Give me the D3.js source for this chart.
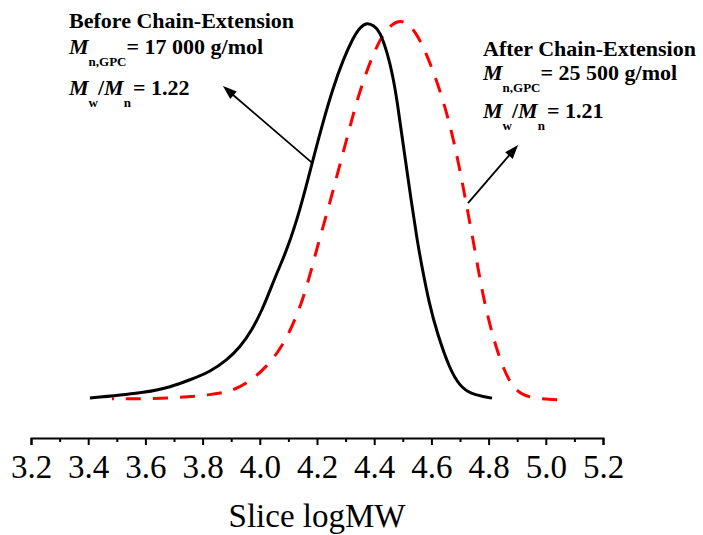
<!DOCTYPE html>
<html>
<head>
<meta charset="utf-8">
<script src="https://cdn.jsdelivr.net/npm/d3@7"></script>
<style>
  html, body { margin: 0; padding: 0; background: #fff; }
  svg { display: block; }
  text { font-family: "Liberation Serif", "Times New Roman", serif; }
</style>
</head>
<body>
<svg id="chart" width="703" height="535"></svg>
<script>
// GPC traces: normalised detector response against slice log MW
const beforeLogMW  = [3.406, 3.616, 3.686, 3.756, 3.826, 3.885, 3.931, 3.973, 4.008, 4.036, 4.064, 4.095, 4.141, 4.183, 4.221, 4.256, 4.291, 4.326, 4.350, 4.375, 4.399, 4.420, 4.448, 4.465, 4.480, 4.504, 4.529, 4.550, 4.567, 4.592, 4.620, 4.665, 4.700, 4.735, 4.812];
const beforeSignal = [0.005, 0.021, 0.034, 0.053, 0.074, 0.105, 0.139, 0.184, 0.237, 0.289, 0.342, 0.395, 0.500, 0.624, 0.732, 0.821, 0.895, 0.953, 0.981, 0.994, 0.985, 0.971, 0.908, 0.853, 0.789, 0.658, 0.526, 0.421, 0.350, 0.255, 0.176, 0.079, 0.037, 0.016, 0.005];

const afterLogMW  = [3.483, 3.651, 3.836, 3.913, 3.973, 4.022, 4.064, 4.099, 4.130, 4.155, 4.179, 4.203, 4.235, 4.263, 4.291, 4.315, 4.340, 4.375, 4.403, 4.431, 4.462, 4.490, 4.518, 4.546, 4.574, 4.606, 4.641, 4.672, 4.700, 4.724, 4.749, 4.773, 4.801, 4.836, 4.875, 4.917, 4.980, 5.060];
const afterSignal = [0.003, 0.003, 0.013, 0.026, 0.053, 0.087, 0.126, 0.171, 0.224, 0.276, 0.339, 0.408, 0.492, 0.571, 0.650, 0.718, 0.789, 0.868, 0.921, 0.963, 0.989, 0.999, 0.991, 0.966, 0.926, 0.866, 0.789, 0.703, 0.605, 0.508, 0.408, 0.303, 0.205, 0.113, 0.042, 0.011, 0.003, 0.000];

const majorTicks = [3.2, 3.4, 3.6, 3.8, 4.0, 4.2, 4.4, 4.6, 4.8, 5.0, 5.2];
const minorTicks = [3.3, 3.5, 3.7, 3.9, 4.1, 4.3, 4.5, 4.7, 4.9, 5.1];
const axisTitle = "Slice logMW";

// Annotation text
const beforeTitle = "Before Chain-Extension";
const beforeMn = "= 17 000 g/mol";
const beforePDI = "= 1.22";
const afterTitle = "After Chain-Extension";
const afterMn = "= 25 500 g/mol";
const afterPDI = "= 1.21";

// Arrow anchors in data units: [logMW, signal]
const beforeArrowFrom = [4.183, 0.624];
const beforeArrowTo   = [3.871, 0.826];
const afterArrowFrom  = [4.728, 0.518];
const afterArrowTo    = [4.903, 0.671];

const svg = d3.select("#chart");

const x = d3.scaleLinear().domain([3.2, 5.2]).range([31, 603]);
const y = d3.scaleLinear().domain([0, 1]).range([400, 20]);

const axisY = 438;

// minor ticks
svg.append("g")
  .attr("transform", `translate(0,${axisY})`)
  .call(d3.axisBottom(x).tickValues(minorTicks).tickSize(4).tickSizeOuter(0).tickFormat(""))
  .call(g => g.select(".domain").remove())
  .call(g => g.selectAll(".tick line").attr("stroke", "#000").attr("stroke-width", 2));

// major ticks, labels and baseline
svg.append("g")
  .attr("transform", `translate(0,${axisY})`)
  .call(d3.axisBottom(x).tickValues(majorTicks).tickSize(7).tickSizeOuter(7).tickFormat(d3.format(".1f")))
  .call(g => g.select(".domain").attr("stroke", "#000").attr("stroke-width", 2))
  .call(g => g.selectAll(".tick line").attr("stroke", "#000").attr("stroke-width", 2))
  .call(g => g.selectAll(".tick text")
    .attr("y", 40).attr("dy", null)
    .attr("fill", "#000")
    .style("font-family", '"Liberation Serif", "Times New Roman", serif')
    .style("font-size", "33px"));

svg.append("text")
  .attr("x", (x.range()[0] + x.range()[1]) / 2)
  .attr("y", 527)
  .attr("text-anchor", "middle")
  .style("font-size", "33px")
  .attr("fill", "#000")
  .text(axisTitle);

// traces
const line = d3.line()
  .x(d => x(d[0]))
  .y(d => y(d[1]))
  .curve(d3.curveBasis);

svg.append("path")
  .datum(d3.zip(afterLogMW, afterSignal))
  .attr("d", line)
  .attr("fill", "none")
  .attr("stroke", "#ff0000")
  .attr("stroke-width", 3)
  .attr("stroke-dasharray", "15,12")
  .attr("stroke-dashoffset", 13);

svg.append("path")
  .datum(d3.zip(beforeLogMW, beforeSignal))
  .attr("d", line)
  .attr("fill", "none")
  .attr("stroke", "#000")
  .attr("stroke-width", 3);

// arrows
function arrow(from, to) {
  const x0 = x(from[0]), y0 = y(from[1]);
  const x1 = x(to[0]), y1 = y(to[1]);
  const dx = x1 - x0, dy = y1 - y0;
  const len = Math.hypot(dx, dy);
  const ux = dx / len, uy = dy / len;
  const headL = 14, headW = 5;
  const bx = x1 - ux * headL, by = y1 - uy * headL;
  svg.append("line")
    .attr("x1", x0).attr("y1", y0)
    .attr("x2", bx + ux * 2).attr("y2", by + uy * 2)
    .attr("stroke", "#000").attr("stroke-width", 1.8);
  svg.append("path")
    .attr("d", `M${x1},${y1}L${bx - uy * headW},${by + ux * headW}L${bx + uy * headW},${by - ux * headW}Z`)
    .attr("fill", "#000");
}
arrow(beforeArrowFrom, beforeArrowTo);
arrow(afterArrowFrom, afterArrowTo);

// annotation blocks
function block(x0, baselines, title, mnText, pdiText) {
  const g = svg.append("g")
    .attr("fill", "#000")
    .style("font-weight", "bold")
    .style("font-size", "22px");

  g.append("text").attr("x", x0).attr("y", baselines[0]).text(title);

  const t2 = g.append("text").attr("x", x0).attr("y", baselines[1]);
  t2.append("tspan").style("font-style", "italic").text("M");
  t2.append("tspan").attr("dy", 12).style("font-size", "13px").text("n,GPC");
  t2.append("tspan").attr("dy", -12).text(mnText);

  const t3 = g.append("text").attr("x", x0).attr("y", baselines[2]);
  t3.append("tspan").style("font-style", "italic").text("M");
  t3.append("tspan").attr("dy", 12).style("font-size", "13px").text("w");
  t3.append("tspan").attr("dy", -12).text("/");
  t3.append("tspan").style("font-style", "italic").text("M");
  t3.append("tspan").attr("dy", 12).style("font-size", "13px").text("n");
  t3.append("tspan").attr("dy", -12).attr("dx", 2).text(pdiText);
}
block(69, [28, 54, 95], beforeTitle, beforeMn, beforePDI);
block(483, [56, 80, 118], afterTitle, afterMn, afterPDI);
</script>
</body>
</html>
